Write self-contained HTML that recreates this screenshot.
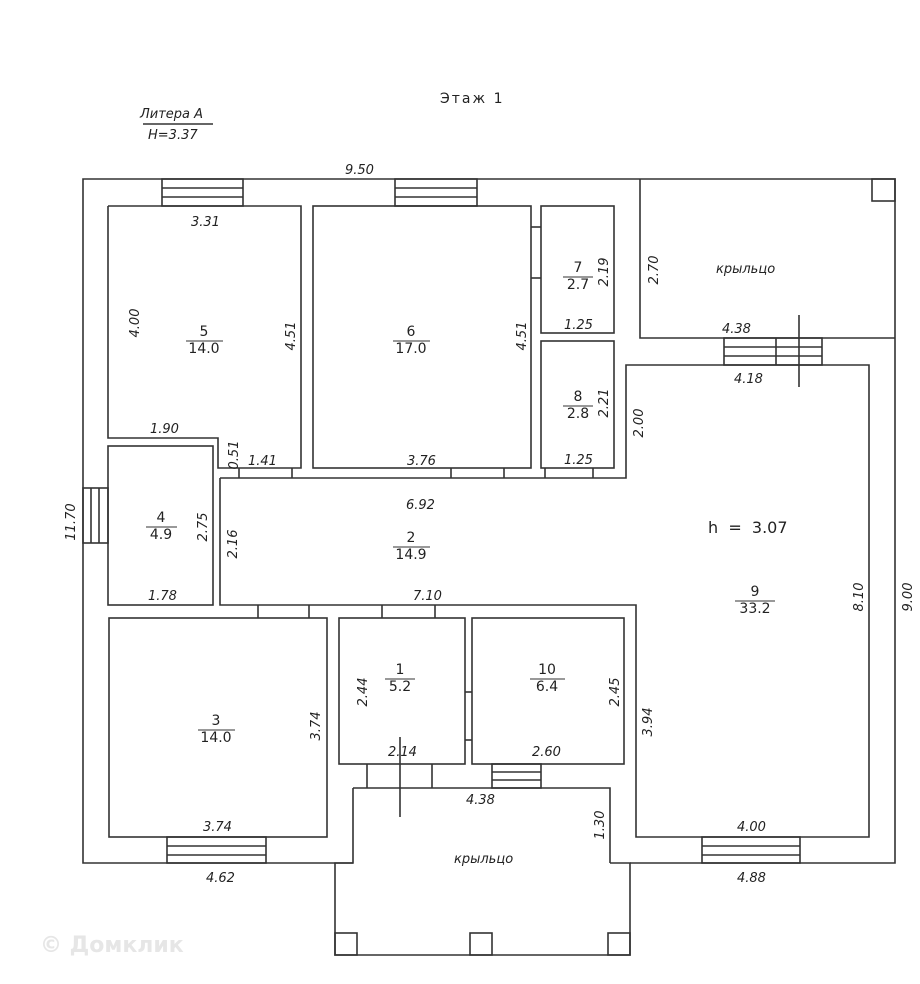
<!DOCTYPE html>
<html><head><meta charset="utf-8"><style>
html,body{margin:0;padding:0;background:#fff;}
svg{display:block}
text{font-family:"DejaVu Sans","Liberation Sans",sans-serif;fill:#222;font-size:13px;font-style:italic}
.n{font-style:normal;font-size:14px}
</style></head><body>
<svg width="920" height="984" viewBox="0 0 920 984" xmlns="http://www.w3.org/2000/svg">
<g fill="none" stroke="#333" stroke-width="1.6">
<!-- outer -->
<polyline points="353,788 353,863 83,863 83,179 895,179 895,863 630,863"/>
<polyline points="640,179 640,338 895,338"/>
<rect x="872" y="179" width="23" height="22"/>
<!-- porch bottom -->
<polyline points="353,788 610,788 610,863"/>
<polyline points="610,863 630,863 630,955 335,955 335,863 353,863"/>
<rect x="335" y="933" width="22" height="22"/>
<rect x="470" y="933" width="22" height="22"/>
<rect x="608" y="933" width="22" height="22"/>
<!-- rooms -->
<polyline points="108,206 301,206 301,468 218,468 218,438 108,438 108,206"/>
<rect x="108" y="446" width="105" height="159"/>
<rect x="313" y="206" width="218" height="262"/>
<rect x="541" y="206" width="73" height="127"/>
<rect x="541" y="341" width="73" height="127"/>
<polyline points="220,478 626,478 626,365 869,365 869,837 636,837 636,605 220,605 220,478"/>
<rect x="109" y="618" width="218" height="219"/>
<rect x="339" y="618" width="126" height="146"/>
<rect x="472" y="618" width="152" height="146"/>
<!-- windows -->
<rect x="162" y="179" width="81" height="27"/><line x1="162" y1="188" x2="243" y2="188"/><line x1="162" y1="197" x2="243" y2="197"/>
<rect x="395" y="179" width="82" height="27"/><line x1="395" y1="188" x2="477" y2="188"/><line x1="395" y1="197" x2="477" y2="197"/>
<rect x="83" y="488" width="25" height="55"/><line x1="91" y1="488" x2="91" y2="543"/><line x1="99" y1="488" x2="99" y2="543"/>
<rect x="167" y="837" width="99" height="26"/><line x1="167" y1="846" x2="266" y2="846"/><line x1="167" y1="855" x2="266" y2="855"/>
<rect x="702" y="837" width="98" height="26"/><line x1="702" y1="846" x2="800" y2="846"/><line x1="702" y1="855" x2="800" y2="855"/>
<rect x="724" y="338" width="98" height="27"/><line x1="724" y1="347" x2="822" y2="347"/><line x1="724" y1="356" x2="822" y2="356"/><line x1="776" y1="338" x2="776" y2="365"/>
<rect x="492" y="764" width="49" height="24"/><line x1="492" y1="772" x2="541" y2="772"/><line x1="492" y1="780" x2="541" y2="780"/>
<!-- door jambs -->
<line x1="239" y1="468" x2="239" y2="478"/><line x1="292" y1="468" x2="292" y2="478"/>
<line x1="451" y1="468" x2="451" y2="478"/><line x1="504" y1="468" x2="504" y2="478"/>
<line x1="545" y1="468" x2="545" y2="478"/><line x1="593" y1="468" x2="593" y2="478"/>
<line x1="531" y1="227" x2="541" y2="227"/><line x1="531" y1="278" x2="541" y2="278"/>
<line x1="258" y1="605" x2="258" y2="618"/><line x1="309" y1="605" x2="309" y2="618"/>
<line x1="382" y1="605" x2="382" y2="618"/><line x1="435" y1="605" x2="435" y2="618"/>
<line x1="465" y1="692" x2="472" y2="692"/><line x1="465" y1="740" x2="472" y2="740"/>
<line x1="367" y1="764" x2="367" y2="788"/><line x1="432" y1="764" x2="432" y2="788"/>
<line x1="799" y1="315" x2="799" y2="387"/>
<line x1="400" y1="737" x2="400" y2="817"/>
<line x1="143" y1="124" x2="213" y2="124"/>
</g>
<g stroke="#333" stroke-width="1"><line x1="186" y1="341" x2="223" y2="341"/><line x1="393" y1="341" x2="430" y2="341"/><line x1="563" y1="277" x2="593" y2="277"/><line x1="563" y1="406" x2="593" y2="406"/><line x1="146" y1="527" x2="177" y2="527"/><line x1="393" y1="547" x2="430" y2="547"/><line x1="735" y1="601" x2="775" y2="601"/><line x1="198" y1="730" x2="235" y2="730"/><line x1="385" y1="679" x2="415" y2="679"/><line x1="530" y1="679" x2="565" y2="679"/></g>
<text x="440" y="103" class="n" style="letter-spacing:2px">Этаж 1</text>
<text x="140" y="118">Литера А</text>
<text x="148" y="139">Н=3.37</text>
<text x="345" y="174">9.50</text>
<text x="191" y="226">3.31</text>
<text x="150" y="433">1.90</text>
<text x="248" y="465">1.41</text>
<text x="407" y="465">3.76</text>
<text x="564" y="329">1.25</text>
<text x="564" y="464">1.25</text>
<text x="406" y="509">6.92</text>
<text x="148" y="600">1.78</text>
<text x="413" y="600">7.10</text>
<text x="203" y="831">3.74</text>
<text x="388" y="756">2.14</text>
<text x="532" y="756">2.60</text>
<text x="466" y="804">4.38</text>
<text x="722" y="333">4.38</text>
<text x="734" y="383">4.18</text>
<text x="737" y="831">4.00</text>
<text x="206" y="882">4.62</text>
<text x="737" y="882">4.88</text>
<text x="716" y="273">крыльцо</text>
<text x="454" y="863">крыльцо</text>
<text x="708" y="533" class="n" style="font-size:16px">h&#160;&#160;=&#160;&#160;3.07</text>
<g class="n" text-anchor="middle">
<text x="204" y="336" class="n">5</text><text x="204" y="353" class="n">14.0</text>
<text x="411" y="336" class="n">6</text><text x="411" y="353" class="n">17.0</text>
<text x="578" y="272" class="n">7</text><text x="578" y="289" class="n">2.7</text>
<text x="578" y="401" class="n">8</text><text x="578" y="418" class="n">2.8</text>
<text x="161" y="522" class="n">4</text><text x="161" y="539" class="n">4.9</text>
<text x="411" y="542" class="n">2</text><text x="411" y="559" class="n">14.9</text>
<text x="755" y="596" class="n">9</text><text x="755" y="613" class="n">33.2</text>
<text x="216" y="725" class="n">3</text><text x="216" y="742" class="n">14.0</text>
<text x="400" y="674" class="n">1</text><text x="400" y="691" class="n">5.2</text>
<text x="547" y="674" class="n">10</text><text x="547" y="691" class="n">6.4</text>
</g>
<g text-anchor="middle">
<text transform="translate(139,323) rotate(-90)">4.00</text>
<text transform="translate(295,336) rotate(-90)">4.51</text>
<text transform="translate(526,336) rotate(-90)">4.51</text>
<text transform="translate(608,272) rotate(-90)">2.19</text>
<text transform="translate(608,403) rotate(-90)">2.21</text>
<text transform="translate(238,455) rotate(-90)">0.51</text>
<text transform="translate(207,527) rotate(-90)">2.75</text>
<text transform="translate(237,544) rotate(-90)">2.16</text>
<text transform="translate(75,522) rotate(-90)">11.70</text>
<text transform="translate(658,270) rotate(-90)">2.70</text>
<text transform="translate(643,423) rotate(-90)">2.00</text>
<text transform="translate(863,597) rotate(-90)">8.10</text>
<text transform="translate(912,597) rotate(-90)">9.00</text>
<text transform="translate(652,722) rotate(-90)">3.94</text>
<text transform="translate(320,726) rotate(-90)">3.74</text>
<text transform="translate(367,692) rotate(-90)">2.44</text>
<text transform="translate(619,692) rotate(-90)">2.45</text>
<text transform="translate(604,825) rotate(-90)">1.30</text>
</g>
<text x="40" y="952" style="font-style:normal;font-weight:bold;font-size:22px;fill:#e6e6e6">© Домклик</text>
</svg>
</body></html>
